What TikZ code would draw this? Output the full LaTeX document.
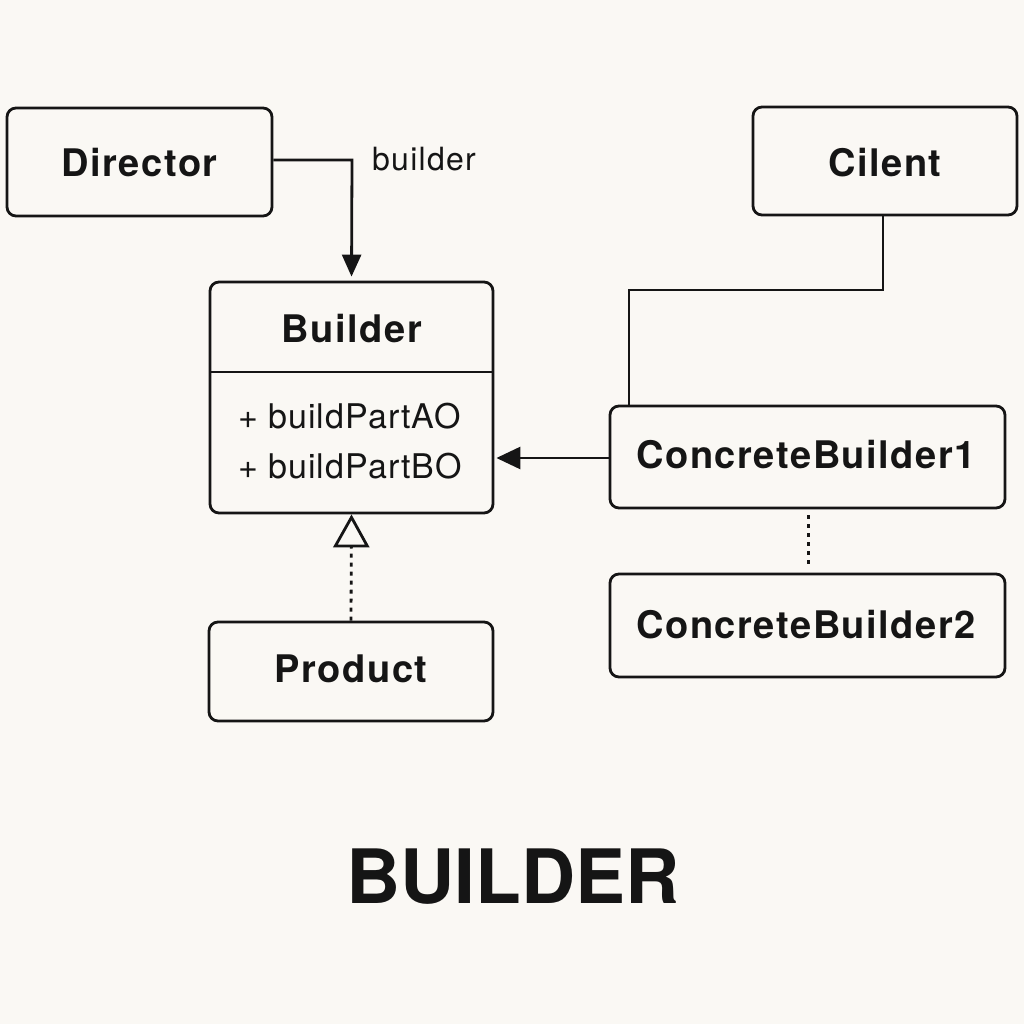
\documentclass[tikz,border=0pt]{standalone}
\usepackage{fontspec}
\setmainfont{TeX Gyre Heros}
\usetikzlibrary{arrows.meta,calc}
\definecolor{bgc}{HTML}{FAF8F4}
\definecolor{ink}{HTML}{151515}
\begin{document}
\begin{tikzpicture}[x=1pt,y=-1pt,
  box/.style={draw=ink, line width=2.8pt, rounded corners=9pt, fill=bgc, inner sep=0pt},
  lbl/.style={inner sep=0pt, text=ink, font=\fontsize{38}{42}\selectfont\bfseries\addfontfeatures{LetterSpace=4}},
  meth/.style={inner sep=0pt, text=ink, font=\fontsize{34}{38}\selectfont\addfontfeatures{LetterSpace=3}},
  conn/.style={draw=ink, line width=2.8pt},
  dotline/.style={draw=ink, line width=3pt, dash pattern=on 4pt off 5pt},
  solidtip/.style={-{Triangle[length=22pt,width=19pt]}}
]
\fill[bgc] (0,0) rectangle (1024,1024);
\useasboundingbox (0,0) rectangle (1024,1024);

% boxes
\node[box, minimum width=265pt, minimum height=108pt] (director) at (139.5,162) {};
\node[lbl] (directorT) at (139.5,163) {Director};

\node[box, minimum width=283pt, minimum height=231pt] (builder) at (351.5,397.5) {};
\node[lbl] (builderT) at (352,329) {Builder};
\coordinate (divL) at (210,372);
\coordinate (divR) at (493,372);
\draw[conn] (divL) -- (divR);
\node[meth, anchor=west] (mA) at (238,416) {+ buildPartAO};
\node[meth, anchor=west] (mB) at (238,466) {+ buildPartBO};

\node[box, minimum width=264pt, minimum height=108pt] (client) at (885,161) {};
\node[lbl] (clientT) at (885,163) {Cilent};

\node[box, minimum width=395pt, minimum height=102pt] (cb1) at (807.5,457) {};
\node[lbl] (cb1T) at (806,455) {ConcreteBuilder1};

\node[box, minimum width=395pt, minimum height=103pt] (cb2) at (807.5,625.5) {};
\node[lbl] (cb2T) at (806,625) {ConcreteBuilder2};

\node[box, minimum width=284pt, minimum height=99pt] (product) at (351,671.5) {};
\node[lbl] (productT) at (351,669) {Product};

\node[inner sep=0pt, text=ink, font=\fontsize{75}{80}\selectfont\bfseries] (title) at (513,877) {BUILDER};

% connectors
\coordinate (bend1) at (352,160);
\draw[conn, solidtip, shorten >=4pt] (director.east |- bend1) -- (bend1) -- (builder.north);
\node[inner sep=0pt, text=ink, font=\fontsize{32}{36}\selectfont\addfontfeatures{LetterSpace=4}] (blabel) at (424,159) {builder};

\coordinate (c1) at (883,290);
\coordinate (c2) at (629,290);
\draw[conn] (client.south -| c1) -- (c1) -- (c2) -- (cb1.north -| c2);

\coordinate (a1) at (610,458);
\draw[conn, -{Triangle[length=24pt,width=22pt]}, shorten >=2pt] (a1) -- (builder.east |- a1);

\coordinate (d1) at (808,508);
\draw[dotline] ($(cb1.south -| d1)+(0,6)$) -- ($(cb2.north -| d1)+(0,-4)$);

\draw[draw=ink, line width=2.8pt, -{Triangle[open,length=33pt,width=36pt,line width=2.8pt]}, dash pattern=on 4pt off 5pt] (product.north) -- (builder.south);
\end{tikzpicture}
\end{document}
